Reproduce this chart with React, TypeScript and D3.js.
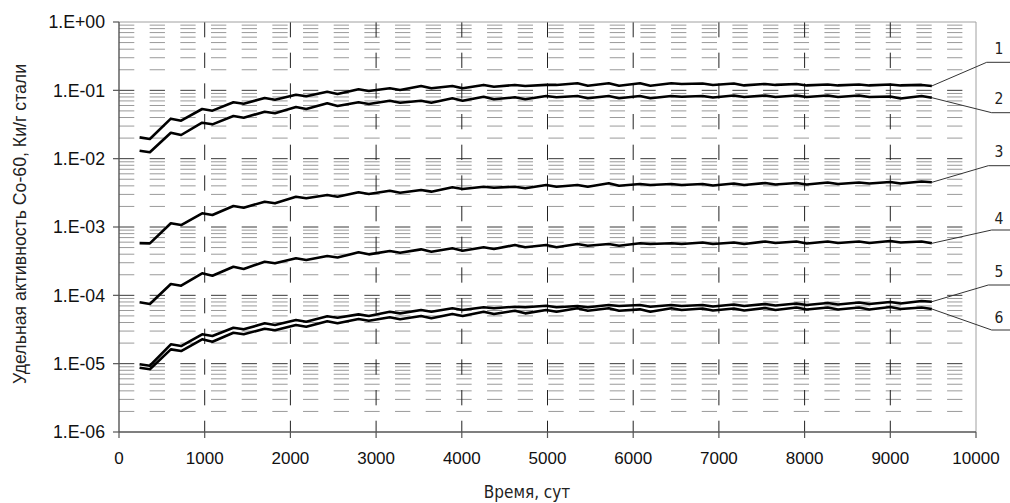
import React from 'react';
import * as d3 from 'd3';

// time points, days
const days = [
  240, 360, 605, 725, 970, 1090, 1335, 1455, 1700, 1820, 2065, 2185, 2430, 2550,
  2795, 2915, 3160, 3280, 3525, 3645, 3890, 4010, 4255, 4375, 4620, 4740, 4985, 5105,
  5350, 5470, 5715, 5835, 6080, 6200, 6445, 6565, 6810, 6930, 7175, 7295, 7540, 7660,
  7905, 8025, 8270, 8390, 8635, 8755, 9000, 9120, 9365, 9485,
];

// specific activity, Ci/g of steel
const series1 = [
  0.0205, 0.0194, 0.0385, 0.036, 0.0533, 0.0504, 0.0668, 0.0637, 0.0773, 0.0729, 0.0863, 0.0818,
  0.0955, 0.0883, 0.1035, 0.0978, 0.107, 0.101, 0.116, 0.107, 0.116, 0.107, 0.12, 0.113,
  0.12, 0.116, 0.12, 0.12, 0.127, 0.117, 0.127, 0.117, 0.127, 0.117, 0.127, 0.124,
  0.126, 0.12, 0.126, 0.118, 0.124, 0.12, 0.124, 0.118, 0.122, 0.118, 0.122, 0.118,
  0.122, 0.118, 0.12, 0.116,
];
const series2 = [
  0.01308, 0.0124, 0.024, 0.0222, 0.0336, 0.0318, 0.0421, 0.0397, 0.0487, 0.0461, 0.057, 0.0533,
  0.0646, 0.059, 0.0668, 0.0631, 0.0705, 0.0659, 0.0705, 0.0659, 0.0764, 0.0705, 0.0807, 0.0739,
  0.0791, 0.0739, 0.0826, 0.0791, 0.0826, 0.0764, 0.0826, 0.0764, 0.0826, 0.0764, 0.0826, 0.0807,
  0.0826, 0.0785, 0.084, 0.0799, 0.084, 0.0799, 0.084, 0.0799, 0.084, 0.0799, 0.084, 0.0799,
  0.0813, 0.076, 0.0826, 0.078,
];
const series3 = [
  5.8e-4, 5.75e-4, 1.133e-3, 1.069e-3, 1.586e-3, 1.497e-3, 2.03e-3, 1.916e-3, 2.344e-3, 2.22e-3, 2.77e-3, 2.63e-3,
  2.94e-3, 2.77e-3, 3.22e-3, 3.04e-3, 3.4e-3, 3.18e-3, 3.48e-3, 3.29e-3, 3.81e-3, 3.6e-3, 3.89e-3, 3.76e-3,
  3.89e-3, 3.68e-3, 4.12e-3, 3.89e-3, 4.12e-3, 3.89e-3, 4.36e-3, 4.02e-3, 4.26e-3, 4.12e-3, 4.26e-3, 4.12e-3,
  4.26e-3, 4.05e-3, 4.33e-3, 4.12e-3, 4.4e-3, 4.19e-3, 4.4e-3, 4.19e-3, 4.48e-3, 4.26e-3, 4.48e-3, 4.33e-3,
  4.55e-3, 4.33e-3, 4.63e-3, 4.51e-3,
];
const series4 = [
  7.91e-5, 7.46e-5, 1.465e-4, 1.383e-4, 2.1e-4, 1.935e-4, 2.62e-4, 2.43e-4, 3.1e-4, 2.94e-4, 3.48e-4, 3.29e-4,
  3.76e-4, 3.57e-4, 4.26e-4, 3.98e-4, 4.45e-4, 4.2e-4, 4.71e-4, 4.35e-4, 4.88e-4, 4.5e-4, 5.05e-4, 4.77e-4,
  5.45e-4, 5.05e-4, 5.45e-4, 5.05e-4, 5.64e-4, 5.32e-4, 5.64e-4, 5.32e-4, 5.77e-4, 5.64e-4, 5.77e-4, 5.64e-4,
  5.93e-4, 5.64e-4, 5.93e-4, 5.64e-4, 6.13e-4, 5.83e-4, 6.13e-4, 5.73e-4, 6.13e-4, 5.83e-4, 6.13e-4, 5.83e-4,
  6.24e-4, 5.93e-4, 6.13e-4, 5.77e-4,
];
const series5 = [
  9.78e-6, 9.33e-6, 1.92e-5, 1.81e-5, 2.69e-5, 2.54e-5, 3.36e-5, 3.18e-5, 3.9e-5, 3.68e-5, 4.36e-5, 4.11e-5,
  4.93e-5, 4.69e-5, 5.27e-5, 4.98e-5, 5.75e-5, 5.45e-5, 6.1e-5, 5.75e-5, 6.46e-5, 6.1e-5, 6.68e-5, 6.46e-5,
  6.82e-5, 6.68e-5, 7.05e-5, 6.68e-5, 6.98e-5, 6.68e-5, 7.22e-5, 6.98e-5, 7.22e-5, 6.82e-5, 7.22e-5, 6.98e-5,
  7.22e-5, 6.86e-5, 7.34e-5, 6.98e-5, 7.46e-5, 7.1e-5, 7.59e-5, 7.22e-5, 7.72e-5, 7.34e-5, 7.85e-5, 7.46e-5,
  7.98e-5, 7.59e-5, 8.26e-5, 8.07e-5,
];
const series6 = [
  8.73e-6, 8.27e-6, 1.62e-5, 1.53e-5, 2.27e-5, 2.09e-5, 2.84e-5, 2.69e-5, 3.25e-5, 3.08e-5, 3.68e-5, 3.47e-5,
  4.17e-5, 3.9e-5, 4.5e-5, 4.25e-5, 4.77e-5, 4.46e-5, 4.98e-5, 4.61e-5, 5.33e-5, 4.98e-5, 5.75e-5, 5.33e-5,
  5.96e-5, 5.45e-5, 6.1e-5, 5.75e-5, 6.46e-5, 5.96e-5, 6.46e-5, 5.96e-5, 6.24e-5, 5.75e-5, 6.46e-5, 6.1e-5,
  6.41e-5, 6.0e-5, 6.41e-5, 6.0e-5, 6.52e-5, 6.1e-5, 6.64e-5, 6.2e-5, 6.64e-5, 6.2e-5, 6.64e-5, 6.2e-5,
  6.75e-5, 6.31e-5, 6.64e-5, 6.31e-5,
];

const seriesList = [series1, series2, series3, series4, series5, series6];
const seriesLabels = ['1', '2', '3', '4', '5', '6'];

const xTicks = [0, 1000, 2000, 3000, 4000, 5000, 6000, 7000, 8000, 9000, 10000];
const yTicks = [1e-6, 1e-5, 1e-4, 1e-3, 1e-2, 1e-1, 1];
const yTickLabels = ['1.E-06', '1.E-05', '1.E-04', '1.E-03', '1.E-02', '1.E-01', '1.E+00'];

const xTitle = 'Время, сут';
const yTitle = 'Удельная активность Co-60, Ки/г стали';

// label callouts at the right edge (layout, px)
const callouts = [
  { ex: 986.7, ey: 62.3, ty: 54 },
  { ex: 991.7, ey: 112.7, ty: 104 },
  { ex: 988.3, ey: 165.7, ty: 157 },
  { ex: 991.7, ey: 230, ty: 224.3 },
  { ex: 988.3, ey: 285, ty: 276.7 },
  { ex: 991.7, ey: 330, ty: 322.7 },
];

export default function App() {
  const width = 1010;
  const height = 503;
  const left = 119;
  const right = 976;
  const top = 22;
  const bottom = 432;

  const x = d3.scaleLinear().domain([0, 10000]).range([left, right]);
  const y = d3.scaleLog().domain([1e-6, 1]).range([bottom, top]);

  const line = d3
    .line<number>()
    .x((d, i) => x(days[i]))
    .y((d) => y(d));

  const minor: number[] = [];
  const major: number[] = [];
  for (let k = -6; k < 0; k++) {
    for (let m = 1; m <= 9; m++) {
      const v = m * Math.pow(10, k);
      if (m === 1) {
        if (k > -6) major.push(v);
      } else minor.push(v);
    }
  }

  const dash = '15.3 15.37';
  const tickFont = '"Liberation Sans", Arial, sans-serif';
  const labelFont = '"DejaVu Sans Condensed", "DejaVu Sans", sans-serif';

  return (
    <svg
      width={width}
      height={height}
      style={{ position: 'absolute', left: 0, top: 0, background: '#fff' }}
      xmlns="http://www.w3.org/2000/svg"
    >
      <rect x={0} y={0} width={width} height={height} fill="#fff" />
      <g key="grid-minor">
        {minor.map((v) => (
          <line key={`mn-${v}`} x1={left} x2={right} y1={y(v)} y2={y(v)} stroke="#9a9a9a" strokeWidth={1} strokeDasharray={dash} />
        ))}
      </g>
      <g key="grid-major">
        {major.map((v) => (
          <line key={`mj-${v}`} x1={left} x2={right} y1={y(v)} y2={y(v)} stroke="#3a3a3a" strokeWidth={1} strokeDasharray={dash} />
        ))}
      </g>
      <g key="grid-x">
        {xTicks.slice(1, -1).map((t) => (
          <line key={`vx-${t}`} x1={x(t)} x2={x(t)} y1={top} y2={bottom} stroke="#222" strokeWidth={1} strokeDasharray={dash} />
        ))}
      </g>
      <g key="frame">
        <line x1={left} x2={right} y1={top} y2={top} stroke="#a0a0a0" strokeWidth={1} />
        <line x1={right} x2={right} y1={top} y2={bottom} stroke="#a0a0a0" strokeWidth={1} />
        <line x1={left} x2={left} y1={top} y2={bottom} stroke="#555" strokeWidth={1.4} />
        <line x1={left} x2={right} y1={bottom} y2={bottom} stroke="#555" strokeWidth={1.6} />
      </g>
      <g key="y-axis" fontFamily={tickFont} fontSize={17.7} fill="#111">
        {yTicks.map((v, i) => (
          <g key={`yt-${i}`}>
            <line x1={left - 6} x2={left} y1={y(v)} y2={y(v)} stroke="#555" strokeWidth={1.2} />
            <text x={105} y={y(v)} dy="0.35em" textAnchor="end">{yTickLabels[i]}</text>
          </g>
        ))}
      </g>
      <g key="x-axis" fontFamily={tickFont} fontSize={17} fill="#111">
        {xTicks.map((t) => (
          <g key={`xt-${t}`}>
            <line x1={x(t)} x2={x(t)} y1={bottom} y2={bottom + 6} stroke="#555" strokeWidth={1.2} />
            <text x={x(t)} y={463.5} textAnchor="middle">{t}</text>
          </g>
        ))}
      </g>
      <g key="series">
        {seriesList.map((s, i) => (
          <path key={`s-${i}`} d={line(s) || ''} fill="none" stroke="#000" strokeWidth={2.6} strokeLinejoin="round" />
        ))}
      </g>
      <g key="callouts">
        {seriesList.map((s, i) => {
          const c = callouts[i];
          const sx = x(days[days.length - 1]);
          const sy = y(s[s.length - 1]);
          return (
            <g key={`c-${i}`}>
              <polyline points={`${sx},${sy} ${c.ex},${c.ey} ${width},${c.ey}`} fill="none" stroke="#333" strokeWidth={1} />
              <text x={999} y={c.ty} textAnchor="middle" fontFamily={labelFont} fontSize={15.5} fill="#222">
                {seriesLabels[i]}
              </text>
            </g>
          );
        })}
      </g>
      <text x={527} y={498} textAnchor="middle" fontFamily={labelFont} fontSize={17} fill="#222">{xTitle}</text>
      <text
        transform={`translate(26, 224) rotate(-90)`}
        textAnchor="middle"
        fontFamily={tickFont}
        fontSize={17.7}
        fill="#222"
      >
        {yTitle}
      </text>
    </svg>
  );
}
